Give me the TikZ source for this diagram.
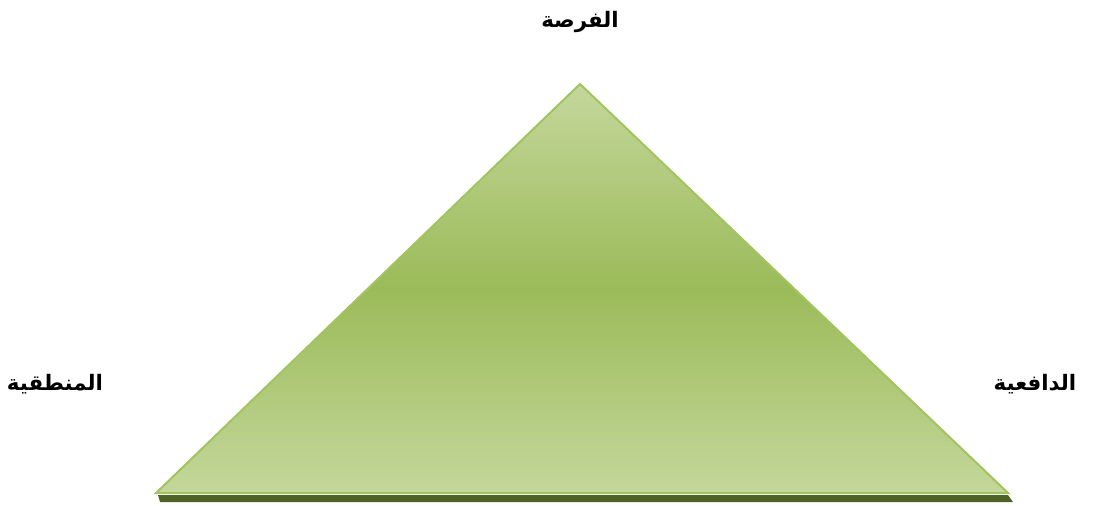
\documentclass[tikz,border=0pt]{standalone}
\usepackage{fontspec}
\newfontfamily\arabicfont[Script=Arabic]{DejaVu Sans}
\TeXXeTstate=1
\usepackage{tikz}
\usetikzlibrary{positioning, calc}
\usepackage{xcolor}
\definecolor{verdeclaro}{RGB}{196,215,155}
\definecolor{verdemedio}{RGB}{155,187,89}
\definecolor{verdeborde}{RGB}{160,196,96}
\definecolor{verdeoscuro}{RGB}{79,98,40}

\tikzset{
  etiqueta/.style={font=\arabicfont\bfseries\fontsize{16}{19}\selectfont, inner sep=0pt}
}

\begin{document}
\begin{tikzpicture}[x=0.75pt, y=-0.75pt]
    \useasboundingbox (0,0) rectangle (1094,506);

    % vertices del triangulo
    \coordinate (apex) at (580,84);
    \coordinate (izq) at (156,493);
    \coordinate (der) at (1008,493);

    % sombra bajo la base
    \fill[verdeoscuro] ($(izq)+(2,2)$) -- ($(der)+(0,2)$) -- ($(der)+(5,9)$) -- ($(izq)+(4,9)$) -- cycle;

    % triangulo con degradado
    \shade[top color=verdeclaro, bottom color=verdeclaro, middle color=verdemedio]
      (apex) -- (der) -- (izq) -- cycle;
    \draw[verdeborde, line width=1.5pt, line join=miter] (apex) -- (der) -- (izq) -- cycle;

    % etiquetas
    \node[etiqueta] (oportunidad) at (580,22) {\beginR الفرصة\endR};
    \node[etiqueta] (logica) at (55,384) {\beginR المنطقية\endR};
    \node[etiqueta] (motivacion) at (1035,384) {\beginR الدافعية\endR};
\end{tikzpicture}
\end{document}
